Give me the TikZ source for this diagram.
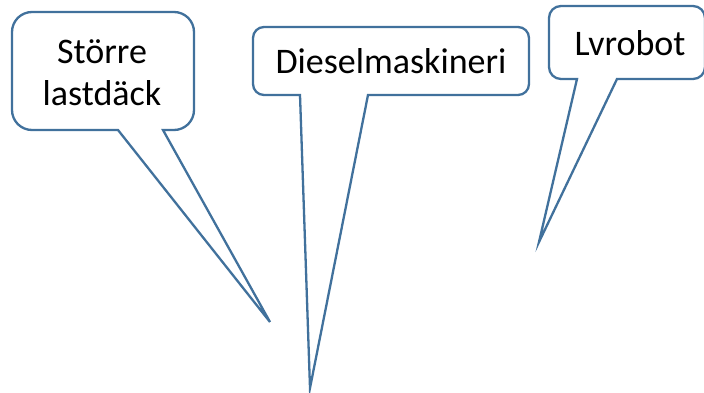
\documentclass[tikz,border=0pt]{standalone}
\usepackage{fontspec}
\setmainfont{Carlito}
\definecolor{callblue}{HTML}{41719C}
\begin{document}
\begin{tikzpicture}[x=1pt,y=1pt,
  callout/.style={draw=callblue,line width=2.3pt,fill=white,line join=miter},
  lbl/.style={anchor=base,inner sep=0pt,font=\fontsize{36}{42}\selectfont,text=black}]
\useasboundingbox (0,0) rectangle (704,392);
% callout 1: box L=12 R=194 T=380 B=262 r=20
\draw[callout] (118,262) -- (32,262) arc[start angle=270,end angle=180,radius=20]
  -- (12,360) arc[start angle=180,end angle=90,radius=20]
  -- (174,380) arc[start angle=90,end angle=0,radius=20]
  -- (194,282) arc[start angle=0,end angle=-90,radius=20]
  -- (163,262) -- (270,70) -- cycle;
% callout 2: box L=253 R=529 T=365 B=297 r=11
\draw[callout] (300,297) -- (264,297) arc[start angle=270,end angle=180,radius=11]
  -- (253,354) arc[start angle=180,end angle=90,radius=11]
  -- (518,365) arc[start angle=90,end angle=0,radius=11]
  -- (529,308) arc[start angle=0,end angle=-90,radius=11]
  -- (368,297) -- (310,4) -- cycle;
% callout 3: box L=549 R=705 T=386 B=313 r=12
\draw[callout] (577,313) -- (561,313) arc[start angle=270,end angle=180,radius=12]
  -- (549,374) arc[start angle=180,end angle=90,radius=12]
  -- (693,386) arc[start angle=90,end angle=0,radius=12]
  -- (705,325) arc[start angle=0,end angle=-90,radius=12]
  -- (617,313) -- (539,150) -- cycle;
\node[lbl] (t1a) at (102,329) {Större};
\node[lbl] (t1b) at (102,287) {lastdäck};
\node[lbl] (t2) at (391,319) {Dieselmaskineri};
\node[lbl] (t3) at (630,337) {Lvrobot};
\end{tikzpicture}
\end{document}
